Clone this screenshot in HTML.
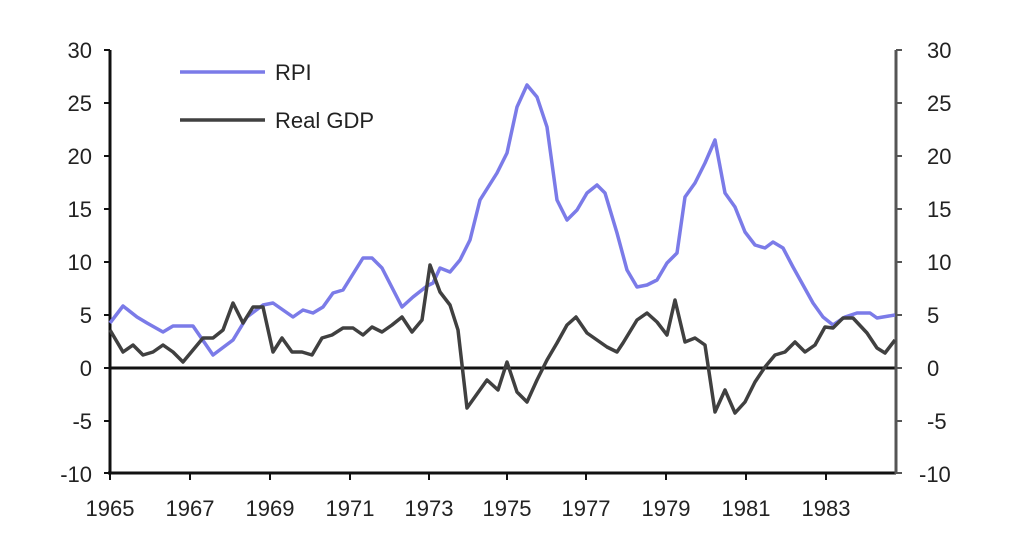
<!DOCTYPE html>
<html><head><meta charset="utf-8"><style>body{margin:0;background:#fff}svg{display:block}text{font-family:"Liberation Sans",sans-serif;font-size:22px;fill:#222}</style></head><body>
<svg width="1024" height="549" viewBox="0 0 1024 549">
<g text-anchor="end">
<text x="92" y="58">30</text><text x="92" y="111">25</text><text x="92" y="164">20</text><text x="92" y="217">15</text><text x="92" y="270">10</text><text x="92" y="323">5</text><text x="92" y="376">0</text><text x="92" y="429">-5</text><text x="92" y="482">-10</text>
</g>
<g text-anchor="start">
<text x="927" y="58">30</text><text x="927" y="111">25</text><text x="927" y="164">20</text><text x="927" y="217">15</text><text x="927" y="270">10</text><text x="927" y="323">5</text><text x="927" y="376">0</text><text x="927" y="429">-5</text><text x="919" y="482">-10</text>
</g>
<g text-anchor="middle">
<text x="110" y="516">1965</text><text x="190" y="516">1967</text><text x="270" y="516">1969</text><text x="350" y="516">1971</text><text x="429" y="516">1973</text><text x="507" y="516">1975</text><text x="586" y="516">1977</text><text x="666" y="516">1979</text><text x="746" y="516">1981</text><text x="826" y="516">1983</text>
</g>
<g stroke="#111" stroke-width="3">
<line x1="110" y1="50" x2="110" y2="474"/>
<line x1="108" y1="473" x2="896" y2="473"/>
<line x1="110" y1="368" x2="896" y2="368"/>
</g>
<g stroke="#111" stroke-width="2">
<line x1="104" y1="50" x2="110" y2="50"/><line x1="104" y1="103" x2="110" y2="103"/><line x1="104" y1="156" x2="110" y2="156"/><line x1="104" y1="209" x2="110" y2="209"/><line x1="104" y1="262" x2="110" y2="262"/><line x1="104" y1="315" x2="110" y2="315"/><line x1="104" y1="368" x2="110" y2="368"/><line x1="104" y1="421" x2="110" y2="421"/><line x1="104" y1="473" x2="110" y2="473"/>
<line x1="110" y1="473" x2="110" y2="480"/><line x1="190" y1="473" x2="190" y2="480"/><line x1="270" y1="473" x2="270" y2="480"/><line x1="350" y1="473" x2="350" y2="480"/><line x1="429" y1="473" x2="429" y2="480"/><line x1="507" y1="473" x2="507" y2="480"/><line x1="586" y1="473" x2="586" y2="480"/><line x1="666" y1="473" x2="666" y2="480"/><line x1="746" y1="473" x2="746" y2="480"/><line x1="826" y1="473" x2="826" y2="480"/>
</g>
<g stroke="#555" stroke-width="3">
<line x1="896" y1="50" x2="896" y2="474"/>
</g>
<g stroke="#555" stroke-width="2">
<line x1="896" y1="50" x2="902" y2="50"/><line x1="896" y1="103" x2="902" y2="103"/><line x1="896" y1="156" x2="902" y2="156"/><line x1="896" y1="209" x2="902" y2="209"/><line x1="896" y1="262" x2="902" y2="262"/><line x1="896" y1="315" x2="902" y2="315"/><line x1="896" y1="368" x2="902" y2="368"/><line x1="896" y1="421" x2="902" y2="421"/><line x1="896" y1="473" x2="902" y2="473"/>
</g>
<polyline fill="none" stroke="#7b7be8" stroke-width="3.5" stroke-linejoin="round" points="110,323 123,306 137,317 147,323 163,332 173,326 193,326 213,355 233,340 247,317 263,305 273,303 293,317 303,310 313,313 323,307 333,293 343,290 363,258 372,258 382,268 402,307 413,297 427,286 433,283 440,268 450,272 460,260 470,240 480,200 497,173 507,153 517,107 527,85 537,97 547,127 557,200 567,220 577,210 587,193 597,185 605,193 617,233 627,270 637,287 647,285 657,280 667,263 677,253 685,197 695,183 705,163 715,140 725,193 735,207 745,232 755,245 765,248 773,242 783,248 793,267 803,285 813,303 823,317 833,325 845,317 857,313 870,313 877,318 895,315"/>
<polyline fill="none" stroke="#404040" stroke-width="3.5" stroke-linejoin="round" points="110,330 123,352 133,345 143,355 153,352 163,345 173,352 183,362 193,350 203,338 213,338 223,330 233,303 243,323 253,307 263,307 273,352 282,338 292,352 302,352 312,355 322,338 332,335 343,328 353,328 363,335 372,327 382,332 392,325 402,317 412,332 422,320 430,265 440,292 450,305 458,330 467,408 487,380 498,390 507,362 517,392 527,402 537,380 547,360 557,343 567,325 576,317 587,333 597,340 607,347 617,352 623,343 637,320 647,313 657,322 667,335 675,300 685,342 695,338 705,345 715,412 725,390 735,413 745,402 755,382 765,367 775,355 785,352 795,342 805,352 815,345 825,327 833,328 843,318 853,318 867,333 877,348 885,353 895,340"/>
<line x1="180" y1="72" x2="265" y2="72" stroke="#7b7be8" stroke-width="3.5"/>
<text x="275" y="80">RPI</text>
<line x1="180" y1="120" x2="265" y2="120" stroke="#404040" stroke-width="3.5"/>
<text x="275" y="128">Real GDP</text>
</svg>
</body></html>
